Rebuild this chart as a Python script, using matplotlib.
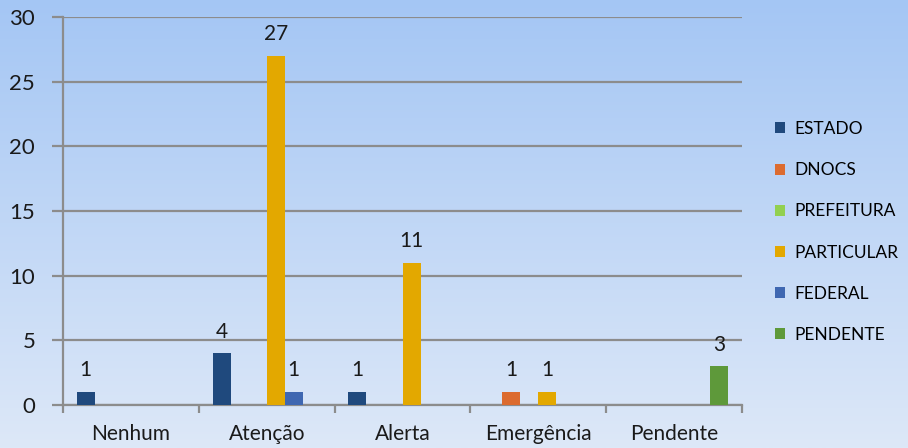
import numpy as np
import matplotlib
matplotlib.use("Agg")
import matplotlib.pyplot as plt
from matplotlib.patches import Patch
from matplotlib.colors import LinearSegmentedColormap

categories = ["Nenhum", "Atenção", "Alerta", "Emergência", "Pendente"]
series_names = ["ESTADO", "DNOCS", "PREFEITURA", "PARTICULAR", "FEDERAL", "PENDENTE"]
estado = [1, 4, 1, 0, 0]
dnocs = [0, 0, 0, 1, 0]
prefeitura = [0, 0, 0, 0, 0]
particular = [0, 27, 11, 1, 0]
federal = [0, 1, 0, 0, 0]
pendente = [0, 0, 0, 0, 3]
colors = ["#1F497D", "#DC6B2F", "#92D050", "#E3A800", "#3F67B1", "#5E993A"]
yticks = [0, 5, 10, 15, 20, 25, 30]

plt.rcParams['font.family'] = ['Lato', 'DejaVu Sans']

fig = plt.figure(figsize=(9.08, 4.48), dpi=100)
bg = fig.add_axes([0, 0, 1, 1], zorder=-10)
grad = np.linspace(0, 1, 256).reshape(-1, 1)
cmap = LinearSegmentedColormap.from_list("bg", ["#A4C6F4", "#DDE8F8"])
bg.imshow(grad, aspect='auto', cmap=cmap, extent=[0, 1, 0, 1], origin='upper')
bg.set_axis_off()

ax = fig.add_axes([63/908, 1-405/448, (742-63)/908, (405-17)/448])
ax.patch.set_alpha(0)

data = [estado, dnocs, prefeitura, particular, federal, pendente]
x = np.arange(len(categories))
n = len(data)
w = 0.133
for i, (vals, c) in enumerate(zip(data, colors)):
    pos = x + (i - (n - 1) / 2) * w
    ax.bar(pos, vals, width=w, color=c, zorder=3)
    for p, v in zip(pos, vals):
        if v > 0:
            ax.text(p, v + 0.9, str(v), ha='center', va='bottom', fontsize=15, color='#1a1a1a', zorder=4)

ax.set_xlim(-0.5, len(categories) - 0.5)
ax.set_ylim(0, 30)
ax.set_yticks(yticks)
ax.yaxis.grid(True, color='#8C8C8C', linewidth=1.6, zorder=1)
ax.set_axisbelow(True)
for s in ['top', 'right']:
    ax.spines[s].set_visible(False)
ax.spines['left'].set_color('#8C8C8C')
ax.spines['left'].set_linewidth(1.6)
ax.spines['bottom'].set_color('#8C8C8C')
ax.spines['bottom'].set_linewidth(1.6)
ax.tick_params(axis='y', length=8, width=1.6, color='#8C8C8C', labelsize=16, pad=12, labelcolor='#1a1a1a')
ax.set_xticks(x)
ax.set_xticklabels(categories)
ax.tick_params(axis='x', which='major', length=0, labelsize=15, pad=14, labelcolor='#1a1a1a')
ax.set_xticks(np.arange(-0.5, len(categories)), minor=True)
ax.tick_params(axis='x', which='minor', length=6, width=1.6, color='#8C8C8C')

handles = [Patch(facecolor=c, label=nm) for nm, c in zip(series_names, colors)]
fig.legend(handles=handles, loc='center left', bbox_to_anchor=(768/908, 1-232/448),
           frameon=False, fontsize=12.5, handlelength=0.6, handleheight=0.6,
           labelspacing=1.45, handletextpad=0.5, borderaxespad=0)

fig.savefig("out.png", dpi=100)
